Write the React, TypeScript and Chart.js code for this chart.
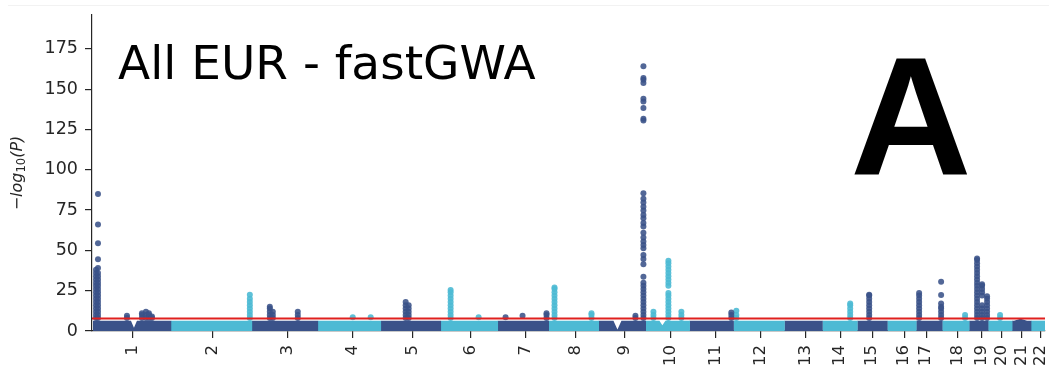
import React, { useEffect, useRef } from 'react';
import { Chart, registerables } from 'chart.js';

Chart.register(...registerables);

// ---------- data ----------
const chromLabels = ['1','2','3','4','5','6','7','8','9','10','11','12','13','14','15','16','17','18','19','20','21','22'];
// cumulative genome position (arbitrary units) of chromosome boundaries
const chromBounds = [1, 79, 160, 226, 289, 349, 406, 457, 507, 554, 598, 642, 693, 731, 766, 796, 825, 851, 878, 897, 921, 940, 954];
// x-axis tick positions (one per chromosome)
const tickPositions = [41, 121, 196, 261, 321, 379, 434, 484, 533, 579, 624, 669, 714, 749, 781, 813, 835, 867, 891, 911, 931, 950];
const yTicksMax = 175;
const yMax = 196;
const threshold = 7.7;

// background band of non-significant SNPs
const bandLevel = 6.4;
const bandDipX = [42, 526, 571, 929.5];
const bandDipY = [2, 1, 3.5, 7.6];
const bandDipHalfWidth = [3, 4, 3, 6.5];

// significant-SNP columns: position and -log10(P) values
const colX = [4, 6, 35, 50, 54, 57, 60, 158, 178, 181, 206, 261, 279, 314, 317, 359, 387, 414, 431, 455, 463, 500, 544, 552, 562, 577, 590, 640, 645, 759, 778, 828, 850, 874, 886, 891, 896, 909];
const chr1Lead = [8, 10, 12, 14, 16, 18, 20, 22, 24, 26, 28, 30, 32, 34, 36, 38];
const chr1LeadTop = [8, 10, 12, 14, 16, 18, 20, 22, 24, 26, 28, 30, 32, 34, 36, 39, 44.5, 54.5, 66, 85];
const chr1SmallA = [8, 9.5];
const chr1HumpA = [8, 10, 11];
const chr1HumpB = [8, 10, 12];
const chr1HumpC = [8, 10, 11];
const chr1HumpD = [8, 9];
const chr2Peak = [8, 10, 12, 14, 16, 18, 20, 22.5];
const chr3PeakA = [8, 10, 12, 14, 15];
const chr3PeakB = [8, 10, 12];
const chr3PeakC = [8, 10, 12];
const chr4SmallA = [8.5];
const chr4SmallB = [8.5];
const chr5PeakA = [8, 10, 12, 14, 16, 18];
const chr5PeakB = [8, 10, 12, 14, 16];
const chr6Peak = [8, 10, 12, 14, 16, 18, 20, 22, 24, 25.5];
const chr6Small = [8.5];
const chr7SmallA = [8.5];
const chr7SmallB = [9.5];
const chr7SmallC = [8, 10, 11];
const chr8Peak = [8, 10, 12, 14, 16, 18, 20, 22, 24, 26, 27];
const chr8Small = [8, 10, 11];
const chr9Small = [8, 9.5];
const chr9Peak = [8, 10, 12, 14, 16, 18, 20, 22, 24, 26, 28, 30, 33.7, 41.4, 44.7, 47.2, 51.4, 53.4, 55.5, 58, 61, 64.8, 67, 70, 72, 74.7, 77, 79.7, 82, 85.5, 130.6, 131.7, 138.3, 142.4, 144.1, 153.8, 155.9, 157, 164.2];
const chr10SmallA = [8, 10, 12];
const chr10Peak = [8, 10, 12, 14, 16, 18, 20, 22, 23.5, 28, 30, 32, 34, 36, 38, 40, 42, 43.5];
const chr10SmallB = [8, 10, 12];
const chr11Small = [8, 10, 11.5];
const chr12Small = [8, 10, 12.5];
const chr14Peak = [8, 10, 12, 14, 16, 17];
const chr15Peak = [8, 10, 12, 14, 16, 18, 20, 22, 22.5];
const chr17PeakA = [8, 10, 12, 14, 16, 18, 20, 22, 23.5];
const chr17PeakB = [8, 10, 12, 14, 15, 17, 22.4, 30.6];
const chr18Small = [8, 10];
const chr19PeakA = [8, 10, 12, 14, 16, 18, 20, 22, 24, 26, 28, 30, 32, 34, 36, 38, 40, 42, 44, 45];
const chr19PeakB = [8, 10, 12, 14, 16, 22, 24, 26, 28, 29];
const chr19PeakC = [8, 10, 12, 14, 16, 18, 20, 21.5];
const chr20Small = [8, 10];
const colValues = [chr1Lead, chr1LeadTop, chr1SmallA, chr1HumpA, chr1HumpB, chr1HumpC, chr1HumpD, chr2Peak, chr3PeakA, chr3PeakB, chr3PeakC, chr4SmallA, chr4SmallB, chr5PeakA, chr5PeakB, chr6Peak, chr6Small, chr7SmallA, chr7SmallB, chr7SmallC, chr8Peak, chr8Small, chr9Small, chr9Peak, chr10SmallA, chr10Peak, chr10SmallB, chr11Small, chr12Small, chr14Peak, chr15Peak, chr17PeakA, chr17PeakB, chr18Small, chr19PeakA, chr19PeakB, chr19PeakC, chr20Small];

const titleText = 'All EUR - fastGWA';
const panelLetter = 'A';

// ---------- style ----------
const DARK = 'rgb(58, 82, 137)';
const LIGHT = 'rgb(77, 186, 212)';
const DARK_PT = 'rgba(58, 82, 137, 0.88)';
const LIGHT_PT = 'rgba(77, 186, 212, 0.9)';
const RED = 'rgb(224, 32, 30)';
const AXIS = '#262626';
const FONT = '"DejaVu Sans", Verdana, sans-serif';

function chromIndexOf(x: number) {
  for (let i = 0; i < chromLabels.length; i++) {
    if (x >= chromBounds[i] && x < chromBounds[i + 1]) return i;
  }
  return chromLabels.length - 1;
}

const textPlugin = {
  id: 'panelTexts',
  afterDraw(chart: any) {
    const ctx = chart.ctx as CanvasRenderingContext2D;
    ctx.save();
    ctx.fillStyle = '#000';
    ctx.textBaseline = 'alphabetic';
    ctx.textAlign = 'left';
    ctx.font = `47px ${FONT}`;
    ctx.fillText(titleText, 118, 79);
    ctx.font = 'bold 168px "Liberation Sans", Arial, sans-serif';
    ctx.textAlign = 'center';
    ctx.fillText(panelLetter, 911, 175);
    ctx.restore();

    // y axis label  -log10(P)
    ctx.save();
    ctx.fillStyle = AXIS;
    ctx.translate(22, 173);
    ctx.rotate(-Math.PI / 2);
    ctx.textBaseline = 'alphabetic';
    ctx.textAlign = 'left';
    const mainFont = `italic 16px ${FONT}`;
    const subFont = `11.5px ${FONT}`;
    ctx.font = mainFont;
    const w1 = ctx.measureText('\u2212log').width;
    const w3 = ctx.measureText('(P)').width;
    ctx.font = subFont;
    const w2 = ctx.measureText('10').width;
    let x = -(w1 + w2 + w3) / 2;
    ctx.font = mainFont;
    ctx.fillText('\u2212log', x, 0);
    x += w1;
    ctx.font = subFont;
    ctx.fillText('10', x, 3);
    x += w2;
    ctx.font = mainFont;
    ctx.fillText('(P)', x, 0);
    ctx.restore();
  },
};

export default function App() {
  const ref = useRef<HTMLCanvasElement | null>(null);

  useEffect(() => {
    if (!ref.current) return;

    const bandSets = chromLabels.map((_, i) => {
      const s = chromBounds[i];
      const e = chromBounds[i + 1] + (i < chromLabels.length - 1 ? 0.6 : 0);
      const pts: { x: number; y: number }[] = [{ x: s, y: bandLevel }];
      bandDipX.forEach((dx, k) => {
        if (dx > s && dx < e) {
          pts.push({ x: dx - bandDipHalfWidth[k], y: bandLevel });
          pts.push({ x: dx, y: bandDipY[k] });
          pts.push({ x: dx + bandDipHalfWidth[k], y: bandLevel });
        }
      });
      pts.push({ x: e, y: bandLevel });
      const col = i % 2 === 0 ? DARK : LIGHT;
      return {
        type: 'line' as const,
        data: pts,
        showLine: true,
        fill: 'origin',
        backgroundColor: col,
        borderColor: col,
        borderWidth: 0,
        pointRadius: 0,
        tension: 0,
        order: 3,
      };
    });

    const darkPts: { x: number; y: number }[] = [];
    const lightPts: { x: number; y: number }[] = [];
    colX.forEach((cx, k) => {
      const target = chromIndexOf(cx) % 2 === 0 ? darkPts : lightPts;
      colValues[k].forEach((v) => target.push({ x: cx, y: v }));
    });

    const chart = new Chart(ref.current, {
      type: 'scatter',
      data: {
        datasets: [
          ...bandSets,
          { data: darkPts, backgroundColor: DARK_PT, borderWidth: 0, pointRadius: 3, order: 2 },
          { data: lightPts, backgroundColor: LIGHT_PT, borderWidth: 0, pointRadius: 3, order: 2 },
          {
            type: 'line' as const,
            data: [{ x: 0, y: threshold }, { x: chromBounds[chromBounds.length - 1], y: threshold }],
            showLine: true,
            borderColor: RED,
            borderWidth: 2,
            pointRadius: 0,
            fill: false,
            order: 1,
          },
        ] as any,
      },
      options: {
        animation: false,
        responsive: false,
        devicePixelRatio: 1,
        layout: { padding: { left: 0, right: 3, top: 15, bottom: 0 } },
        plugins: { legend: { display: false }, tooltip: { enabled: false } },
        events: [],
        scales: {
          x: {
            type: 'linear',
            min: 0,
            max: chromBounds[chromBounds.length - 1],
            afterBuildTicks: (scale: any) => {
              scale.ticks = tickPositions.map((v) => ({ value: v }));
            },
            afterFit: (scale: any) => {
              scale.height = 40;
              scale.paddingLeft = 0;
              scale.paddingRight = 0;
            },
            ticks: {
              autoSkip: false,
              minRotation: 90,
              maxRotation: 90,
              padding: 7,
              color: AXIS,
              font: { family: FONT, size: 16.5 },
              callback: (_v: any, i: number) => chromLabels[i],
            },
            grid: { drawOnChartArea: false, drawTicks: true, tickLength: 7, color: AXIS, lineWidth: 1.2 },
            border: { color: AXIS, width: 1.2 },
          },
          y: {
            min: 0,
            max: yMax,
            afterFit: (scale: any) => {
              scale.width = 92;
              scale.paddingTop = 0;
              scale.paddingBottom = 0;
            },
            ticks: {
              stepSize: 25,
              includeBounds: false,
              padding: 7,
              color: AXIS,
              font: { family: FONT, size: 17.5 },
              callback: (v: any) => (v <= yTicksMax ? String(v) : ''),
            },
            grid: { drawOnChartArea: false, drawTicks: true, tickLength: 7, color: AXIS, lineWidth: 1.2 },
            border: { color: AXIS, width: 1.2 },
          },
        },
      } as any,
      plugins: [textPlugin],
    });
    return () => chart.destroy();
  }, []);

  return (
    <div style={{ position: 'absolute', left: 0, top: 0, width: 1049, height: 371, background: '#fff' }}>
      <div style={{ position: 'absolute', left: 8, top: 5, width: 1041, height: 1, background: '#f2f2f2' }} />
      <canvas ref={ref} width={1049} height={371} style={{ display: 'block', width: 1049, height: 371 }} />
    </div>
  );
}
